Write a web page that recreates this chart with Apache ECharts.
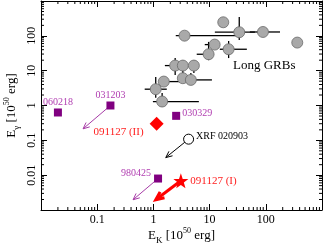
<!DOCTYPE html>
<html><head><meta charset="utf-8">
<script src="https://cdn.jsdelivr.net/npm/echarts@6/dist/echarts.min.js"></script>
<style>html,body{margin:0;padding:0;background:#fff}#c{width:324px;height:243px}</style>
</head><body><div id="c"></div>
<script>
// Long GRBs (gray circles) with error bars
const grbEk   = [17.5, 3.58, 33.7, 89, 363, 12.3, 21.8, 9.6, 2.44, 3.34, 5.25, 3.34, 4.64, 1.53, 1.10, 1.43];
const grbEg   = [245, 101, 127, 129, 64, 56, 41.2, 29.6, 14.0, 14.0, 14.0, 6.08, 5.43, 4.86, 2.94, 1.30];
const grbEkLo = [16.0, 2.5, 12.4, 52, 292, 8.2, 15.2, 5.9, 1.6, 3.34, 5.25, 3.34, 3.2, 1.25, 0.70, 0.98];
const grbEkHi = [19.5, 34.6, 64, 179, 441, 15, 46, 11, 2.44, 3.34, 6.2, 3.34, 11, 2.96, 1.73, 6.44];
const grbEgLo = [215, 101, 76, 129, 48, 48, 23, 20, 7.5, 7.5, 8.6, 6.08, 3.9, 4.86, 1.66, 0.91];
const grbEgHi = [275, 101, 348, 129, 87, 67, 71, 67, 23, 20, 20, 6.08, 8.6, 4.86, 6.6, 2.3];

// Purple squares
const sqNames = ['060218', '031203', '030329', '980425'];
const sqEk    = [0.02, 0.172, 2.54, 1.21];
const sqEg    = [0.63, 1.0, 0.505, 0.008];

// Special points
const diamondName = '091127 (II)'; const diamondPt = [1.14, 0.298];
const starName = '091127 (I)';     const starPt = [3.08, 0.0069];
const xrfName = 'XRF 020903';      const xrfPt = [4.23, 0.108];

// Arrows (start Ek, start Eg, end Ek, end Eg)
const arrowStart = [[0.172, 1.0], [1.21, 0.008], [4.23, 0.108], [3.08, 0.0069]];
const arrowEnd   = [[0.056, 0.214], [0.435, 0.00197], [1.66, 0.032], [1.10, 0.00197]];
const arrowColor = ['#a63ca6', '#a63ca6', '#000000', '#ff0000'];
const arrowWidth = [1, 1, 1, 3];

// Axes
const xMin = 0.01, xMax = 1000, yMin = 0.001, yMax = 1000;
const xTickLabels = ['0.1', '1', '10', '100'];
const yTickLabels = ['0.01', '0.1', '1', '10', '100'];

const FONT = 'Liberation Serif';
const purpleText = '#b03cb0';

function minorVals(lo, hi) {
  const out = [];
  for (let e = Math.round(Math.log10(lo)); e < Math.round(Math.log10(hi)); e++) {
    for (let k = 2; k <= 9; k++) out.push(k * Math.pow(10, e));
  }
  return out;
}
const xMinor = minorVals(xMin, xMax);
const yMinor = minorVals(yMin, yMax);

function fmt(list) {
  return function (v) {
    const s = String(+v.toPrecision(6));
    return list.indexOf(s) >= 0 ? s : '';
  };
}

const rich = {
  n: { fontFamily: FONT, fontSize: 13, lineHeight: 18, verticalAlign: 'middle', color: '#000' },
  s: { fontFamily: FONT, fontSize: 9, lineHeight: 10, verticalAlign: 'bottom', color: '#000' },
  p: { fontFamily: FONT, fontSize: 8, lineHeight: 10, verticalAlign: 'top', color: '#000' }
};

const baseAxis = {
  type: 'log', logBase: 10,
  axisLine: { show: true, lineStyle: { color: '#000', width: 1 } },
  axisTick: { show: true, inside: true, length: 6, lineStyle: { color: '#000' } },
  splitLine: { show: false },
  minorTick: { show: false }
};

const chart = echarts.init(document.getElementById('c'), null, { renderer: 'canvas' });
chart.setOption({
  animation: false,
  grid: { left: 41, right: 2, top: 1, bottom: 33, containLabel: false, outerBoundsMode: 'none' },
  xAxis: [
    Object.assign({}, baseAxis, {
      min: xMin, max: xMax, position: 'bottom',
      axisLabel: { fontFamily: FONT, fontSize: 12, color: '#000', margin: 4, formatter: fmt(xTickLabels), showMinLabel: true, showMaxLabel: true },
      name: '{n|E}{s|K}{n| [10}{p|50}{n| erg]}', nameLocation: 'middle', nameGap: 17, nameMoveOverlap: false,
      nameTextStyle: { rich: rich }
    }),
    Object.assign({}, baseAxis, { min: xMin, max: xMax, position: 'top', axisLabel: { show: false } })
  ],
  yAxis: [
    Object.assign({}, baseAxis, {
      min: yMin, max: yMax, position: 'left',
      axisLabel: { show: false },
      name: '{n|E}{s|γ}{n| [10}{p|50}{n| erg]}', nameLocation: 'middle', nameGap: 20, nameRotate: 90, nameMoveOverlap: false,
      nameTextStyle: { rich: rich }
    }),
    Object.assign({}, baseAxis, { min: yMin, max: yMax, position: 'right', axisLabel: { show: false } })
  ],
  graphic: [{
    type: 'text', left: 233, top: 59,
    style: { text: 'Long GRBs', fontFamily: FONT, fontSize: 13, fill: '#000' }
  }],
  series: [
    { // minor ticks on all sides
      type: 'custom', silent: true, clip: false, z: 1,
      data: xMinor.map(v => [v, 0]).concat(yMinor.map(v => [v, 1])),
      renderItem: function (params, api) {
        const v = api.value(0), isY = api.value(1) === 1;
        const L = 3, st = { stroke: '#000', lineWidth: 1 };
        if (!isY) {
          const b = api.coord([v, yMin]), t = api.coord([v, yMax]);
          return { type: 'group', children: [
            { type: 'line', shape: { x1: b[0], y1: b[1], x2: b[0], y2: b[1] - L }, style: st },
            { type: 'line', shape: { x1: t[0], y1: t[1], x2: t[0], y2: t[1] + L }, style: st }
          ] };
        } else {
          const l = api.coord([xMin, v]), r = api.coord([xMax, v]);
          return { type: 'group', children: [
            { type: 'line', shape: { x1: l[0], y1: l[1], x2: l[0] + L, y2: l[1] }, style: st },
            { type: 'line', shape: { x1: r[0], y1: r[1], x2: r[0] - L, y2: r[1] }, style: st }
          ] };
        }
      }
    },
    { // rotated y tick labels
      type: 'custom', silent: true, clip: false, z: 1,
      data: yTickLabels.map(s => [xMin, parseFloat(s)]),
      renderItem: function (params, api) {
        const p = api.coord([api.value(0), api.value(1)]);
        return {
          type: 'text', x: p[0] - 9, y: p[1], rotation: Math.PI / 2,
          style: { text: yTickLabels[params.dataIndex], fontFamily: FONT, fontSize: 12, fill: '#000', align: 'center', verticalAlign: 'middle' }
        };
      }
    },
    { // error bars
      type: 'custom', silent: true, z: 2,
      data: grbEk.map((x, i) => [x, grbEg[i], grbEkLo[i], grbEkHi[i], grbEgLo[i], grbEgHi[i]]),
      renderItem: function (params, api) {
        const x = api.value(0), y = api.value(1);
        const h1 = api.coord([api.value(2), y]), h2 = api.coord([api.value(3), y]);
        const v1 = api.coord([x, api.value(4)]), v2 = api.coord([x, api.value(5)]);
        const st = { stroke: '#000', lineWidth: 1.3 };
        return { type: 'group', children: [
          { type: 'line', shape: { x1: h1[0], y1: h1[1], x2: h2[0], y2: h2[1] }, style: st },
          { type: 'line', shape: { x1: v1[0], y1: v1[1], x2: v2[0], y2: v2[1] }, style: st }
        ] };
      }
    },
    {
      type: 'scatter', z: 3, symbol: 'circle', symbolSize: 11,
      itemStyle: { color: '#a9a9a9', borderColor: '#6a6a6a', borderWidth: 0.8, opacity: 1 },
      data: grbEk.map((x, i) => [x, grbEg[i]])
    },
    { // arrows
      type: 'custom', silent: true, z: 4,
      data: arrowStart.map((s, i) => [s[0], s[1], arrowEnd[i][0], arrowEnd[i][1], i]),
      renderItem: function (params, api) {
        const i = api.value(4);
        const a = api.coord([api.value(0), api.value(1)]), b = api.coord([api.value(2), api.value(3)]);
        const ang = Math.atan2(b[1] - a[1], b[0] - a[0]);
        const w = arrowWidth[i], hl = w > 1 ? 9 : 7, sp = 0.42;
        const p1 = [b[0] - hl * Math.cos(ang - sp), b[1] - hl * Math.sin(ang - sp)];
        const p2 = [b[0] - hl * Math.cos(ang + sp), b[1] - hl * Math.sin(ang + sp)];
        const st = { stroke: arrowColor[i], lineWidth: w, fill: null, lineJoin: 'miter' };
        return { type: 'group', children: [
          { type: 'line', shape: { x1: a[0], y1: a[1], x2: b[0], y2: b[1] }, style: st },
          { type: 'polyline', shape: { points: [p1, b, p2] }, style: st }
        ] };
      }
    },
    {
      type: 'scatter', z: 5, symbol: 'rect', symbolSize: 8,
      itemStyle: { color: '#800080', opacity: 1 },
      label: { show: true, formatter: p => sqNames[p.dataIndex], fontFamily: FONT, fontSize: 10, color: purpleText },
      data: [
        { value: [sqEk[0], sqEg[0]], label: { position: 'top', distance: 1 } },
        { value: [sqEk[1], sqEg[1]], label: { position: 'top', distance: 1 } },
        { value: [sqEk[2], sqEg[2]], label: { position: 'right', distance: 2, offset: [0, -2] } },
        { value: [sqEk[3], sqEg[3]], label: { position: 'left', distance: 3, offset: [0, -5] } }
      ]
    },
    {
      type: 'scatter', z: 5, symbol: 'diamond', symbolSize: 14,
      itemStyle: { color: '#ff0000', opacity: 1 },
      label: { show: true, formatter: diamondName, position: 'left', distance: 6, offset: [0, 8], fontFamily: FONT, fontSize: 11, color: '#ff2020' },
      data: [diamondPt]
    },
    {
      type: 'scatter', z: 5,
      symbol: 'path://M0,-10 L2.35,-3.24 9.51,-3.09 3.8,1.24 5.88,8.09 0,4 -5.88,8.09 -3.8,1.24 -9.51,-3.09 -2.35,-3.24 Z',
      symbolSize: 15,
      itemStyle: { color: '#ff0000', opacity: 1 },
      label: { show: true, formatter: starName, position: 'right', distance: 2, fontFamily: FONT, fontSize: 11, color: '#ff2020' },
      data: [starPt]
    },
    {
      type: 'scatter', z: 5, symbol: 'circle', symbolSize: 10,
      itemStyle: { color: '#ffffff', borderColor: '#000', borderWidth: 1, opacity: 1 },
      label: { show: true, formatter: xrfName, position: 'right', distance: 2, offset: [0, -3], fontFamily: FONT, fontSize: 10, color: '#000' },
      data: [xrfPt]
    }
  ]
});
</script></body></html>
